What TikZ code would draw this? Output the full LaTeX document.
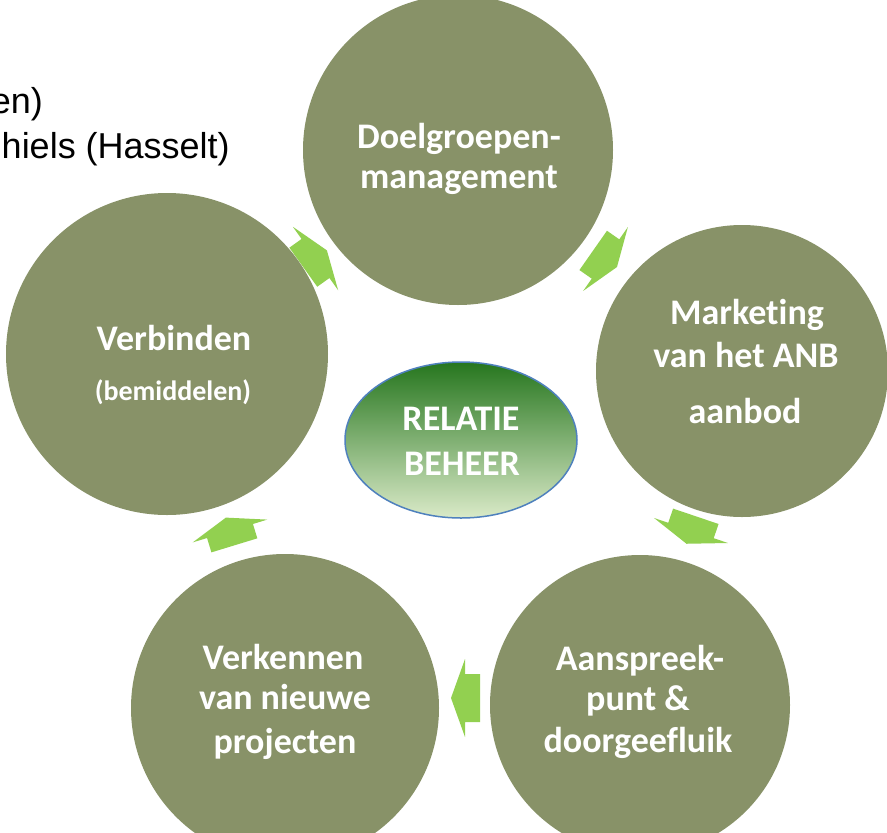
\documentclass[tikz,border=0pt]{standalone}
\usepackage{fontspec}
\setmainfont{Carlito}[Ligatures=NoCommon]
\newfontfamily\arialfont{Liberation Sans}
\usetikzlibrary{shapes.geometric}
\definecolor{olivefill}{RGB}{136,146,104}
\definecolor{arrowgreen}{RGB}{146,208,80}
\definecolor{ellborder}{RGB}{79,129,189}
\definecolor{elltop}{RGB}{38,118,30}
\definecolor{ellbottom}{RGB}{218,234,200}
\newcommand\cycarrow[3]{%
  \begin{scope}[shift={(#1,#2)},rotate=#3]
    \fill[arrowgreen] (-15,-24) -- (0,-24) -- (0,-39) -- (14,0) -- (0,39) -- (0,24) -- (-15,24) -- cycle;
  \end{scope}}
\begin{document}
\begin{tikzpicture}[x=1pt,y=-1pt,
  bubble/.style={circle, fill=olivefill, inner sep=0pt},
  bubbletext/.style={text=white, font=\bfseries\fontsize{36}{40}\selectfont, anchor=base, inner sep=0pt},
  smalltext/.style={text=white, font=\bfseries\fontsize{28}{32}\selectfont, anchor=base, inner sep=0pt},
  sidetext/.style={text=black, font=\arialfont\fontsize{36}{42}\selectfont, anchor=base east, inner sep=0pt}]
\useasboundingbox (0,0) rectangle (887,833);
\fill[white] (0,0) rectangle (887,833);

% side text (cut off at the left)
\node[sidetext] (s1) at (43,113) {en)};
\node[sidetext] (s2) at (230,158) {hiels (Hasselt)};

% arrows
\cycarrow{315.5}{258.5}{35.5}
\cycarrow{605.5}{259}{-35}
\cycarrow{691}{530.5}{-108.7}
\cycarrow{465}{698}{180}
\cycarrow{230}{531}{107}

% circles
\node[bubble, minimum size=310pt] (doel) at (458,150) {};
\node[bubble, minimum size=292pt] (mark) at (742,371) {};
\node[bubble, minimum size=300pt] (aansp) at (640,705) {};
\node[bubble, minimum size=308pt] (verk) at (285,708) {};
\node[bubble, minimum size=322pt] (verb) at (167,354) {};

% centre ellipse
\node[ellipse, draw=ellborder, line width=1.5pt, top color=elltop, bottom color=ellbottom,
      minimum width=232pt, minimum height=156pt, inner sep=0pt] (rel) at (461,440) {};

% texts
\node[bubbletext] (t1a) at (459,148) {Doelgroepen-};
\node[bubbletext] (t1b) at (459,188) {management};

\node[bubbletext] (t2a) at (747,324) {Marketing};
\node[bubbletext] (t2b) at (746,367) {van het ANB};
\node[bubbletext] (t2c) at (745,423) {aanbod};

\node[bubbletext] (t3a) at (640,670) {Aanspreek-};
\node[bubbletext] (t3b) at (638,710) {punt \&};
\node[bubbletext] (t3c) at (638,752) {doorgeefluik};

\node[bubbletext] (t4a) at (283,669) {Verkennen};
\node[bubbletext] (t4b) at (285,709) {van nieuwe};
\node[bubbletext] (t4c) at (285,753) {projecten};

\node[bubbletext] (t5a) at (174,350) {Verbinden};
\node[smalltext] (t5b) at (173,400) {(bemiddelen)};

\node[bubbletext] (t6a) at (461,430) {RELATIE};
\node[bubbletext] (t6b) at (462,475) {BEHEER};
\end{tikzpicture}
\end{document}
